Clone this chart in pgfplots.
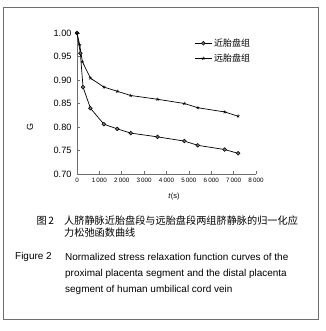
\documentclass[border=0pt]{standalone}
\usepackage{pgfplots}
\pgfplotsset{compat=1.18}
\usepackage{fontspec}
\setmainfont{Liberation Sans}
\newfontfamily\cjk{Noto Sans CJK SC}
\definecolor{axgray}{RGB}{110,110,110}
\definecolor{mkfill}{RGB}{110,110,110}
\begin{document}
\begin{tikzpicture}
\useasboundingbox (0,0) rectangle (326bp,331bp);
\draw[axgray,line width=0.8bp] (3bp,12bp) rectangle (318bp,324bp);
\begin{axis}[
  at={(77bp,157bp)}, anchor=south west,
  scale only axis, width=179bp, height=141bp,
  xmin=0, xmax=8000, ymin=0.70, ymax=1.00,
  axis x line*=bottom, axis y line*=left,
  axis line style={axgray, line width=0.7bp, -},
  every tick/.style={axgray, line width=0.6bp},
  tick align=inside, major tick length=3bp,
  xtick={0,1000,2000,3000,4000,5000,6000,7000,8000},
  xticklabels={0,1\thinspace000,2\thinspace000,3\thinspace000,4\thinspace000,5\thinspace000,6\thinspace000,7\thinspace000,8\thinspace000},
  ytick={0.70,0.75,0.80,0.85,0.90,0.95,1.00},
  yticklabels={0.70,0.75,0.80,0.85,0.90,0.95,1.00},
  /pgf/number format/assume math mode=true,
  x tick label style={font=\fontsize{6.3}{7}\selectfont, yshift=-1bp},
  y tick label style={font=\fontsize{9.2}{10}\selectfont, xshift=-2bp},
  clip=false,
  legend style={at={(0.655,0.975)}, anchor=north west, draw=none, fill=none,
    font=\cjk\fontsize{9}{10}\selectfont, row sep=2bp, inner sep=0pt},
  legend cell align=left,
]
\addplot[black, line width=0.7bp, mark=*, mark size=1.9bp,
  mark options={fill=mkfill, draw=black, line width=0.5bp}]
  coordinates {(0,1.000)(150,0.957)(270,0.885)(600,0.840)(1200,0.806)(1800,0.796)(2400,0.787)(3600,0.779)(4800,0.770)(5400,0.761)(6600,0.752)(7200,0.744)};
\addlegendentry{近胎盘组}
\addplot[black, line width=0.7bp, mark=star, mark size=1.7bp,
  mark options={line width=0.5bp}]
  coordinates {(0,1.000)(120,0.975)(240,0.939)(600,0.904)(1200,0.885)(1800,0.876)(2400,0.867)(3600,0.859)(4800,0.850)(5400,0.841)(6600,0.832)(7200,0.823)};
\addlegendentry{远胎盘组}
\end{axis}
\node[font=\fontsize{9}{10}\selectfont, rotate=90] at (30bp,204bp) {G};
\node[font=\fontsize{7.5}{9}\selectfont] at (174bp,134bp) {\textit{t}(s)};
\node[font=\cjk\fontsize{10.2}{12}\selectfont, anchor=west] at (33bp,110bp) {图\,2};
\node[font=\cjk\fontsize{10.2}{12}\selectfont, anchor=west, inner sep=0pt] at (64bp,110bp) {人脐静脉近胎盘段与远胎盘段两组脐静脉的归一化应};
\node[font=\cjk\fontsize{10.2}{12}\selectfont, anchor=west, inner sep=0pt] at (64bp,98bp) {力松弛函数曲线};
\node[font=\fontsize{10}{12}\selectfont, anchor=west, inner sep=0pt] at (15bp,74bp) {Figure 2};
\node[font=\fontsize{10}{12}\selectfont, anchor=west, inner sep=0pt] at (65bp,74bp) {Normalized stress relaxation function curves of the};
\node[font=\fontsize{10}{12}\selectfont, anchor=west, inner sep=0pt] at (65bp,57bp) {proximal placenta segment and the distal placenta};
\node[font=\fontsize{10}{12}\selectfont, anchor=west, inner sep=0pt] at (65bp,41bp) {segment of human umbilical cord vein};
\end{tikzpicture}
\end{document}
